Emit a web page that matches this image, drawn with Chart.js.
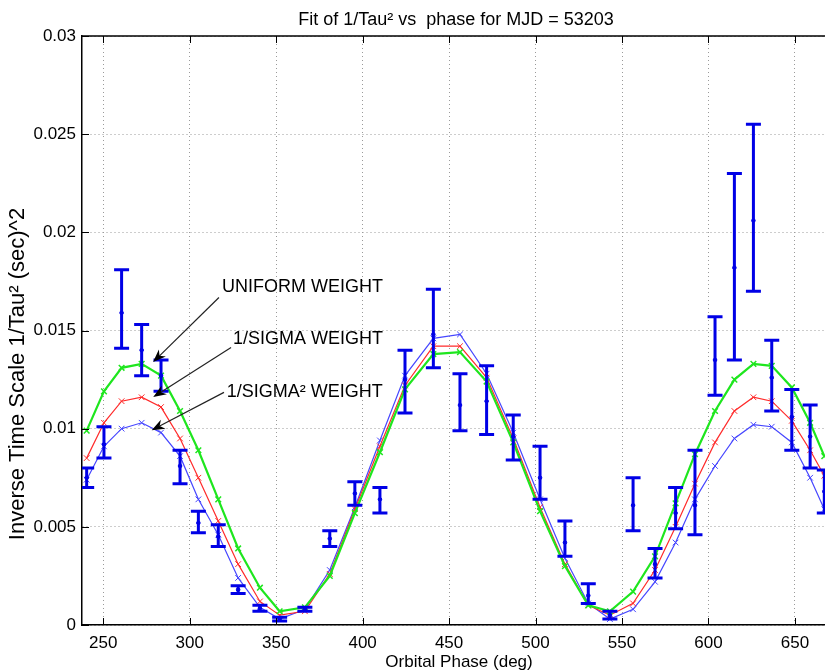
<!DOCTYPE html>
<html>
<head>
<meta charset="utf-8">
<script src="https://cdn.jsdelivr.net/npm/chart.js@4.4.0/dist/chart.umd.min.js"></script>
<style>
  html, body { margin: 0; padding: 0; background: #fff; }
</style>
</head>
<body>
<canvas id="fitChart" width="825" height="672"></canvas>
<script>
// orbital phase of each measurement (deg)
const phase = [240.4, 250.4, 260.6, 272.2, 283.4, 294.4, 305.0, 316.5, 328.0, 340.6,
  352.0, 366.6, 381.0, 395.5, 410.0, 424.5, 440.9, 456.3, 471.7, 487.1,
  502.6, 517.0, 530.5, 543.0, 556.4, 569.1, 581.0, 592.2, 603.8, 615.0,
  626.0, 636.6, 648.2, 658.8, 667.0];

// measured 1/Tau^2 and its error bar ends
const measured = [0.0075, 0.0092, 0.0159, 0.0140, 0.0127, 0.0081, 0.0052, 0.0045, 0.0018, 0.00085,
  0.0003, 0.0008, 0.0044, 0.0067, 0.0064, 0.0125, 0.0148, 0.0112, 0.0114, 0.0096,
  0.0075, 0.0042, 0.0015, 0.0005, 0.0061, 0.0031, 0.0057, 0.0061, 0.0135, 0.0182,
  0.0206, 0.0126, 0.0106, 0.0096, 0.0068];
const errLow = [0.0070, 0.0085, 0.0141, 0.0127, 0.0119, 0.0072, 0.0047, 0.0040, 0.0016, 0.0007,
  0.0002, 0.0007, 0.0040, 0.0061, 0.0057, 0.0108, 0.0131, 0.0099, 0.0097, 0.0084,
  0.0064, 0.0035, 0.0011, 0.0003, 0.0048, 0.0024, 0.0049, 0.0046, 0.0117, 0.0135,
  0.0170, 0.0109, 0.0089, 0.0080, 0.0057];
const errHigh = [0.0080, 0.0101, 0.0181, 0.0153, 0.0135, 0.0089, 0.0058, 0.0051, 0.0020, 0.0010,
  0.0004, 0.0009, 0.0048, 0.0073, 0.0070, 0.0140, 0.0171, 0.0128, 0.0132, 0.0107,
  0.0091, 0.0053, 0.0021, 0.0007, 0.0075, 0.0039, 0.0070, 0.0089, 0.0157, 0.0230,
  0.0255, 0.0145, 0.0120, 0.0112, 0.0079];

// fitted curves
const fitUniform = [0.0099, 0.0119, 0.0131, 0.0133, 0.0127, 0.0109, 0.0089, 0.0064, 0.0039, 0.0019,
  0.0007, 0.0009, 0.0025, 0.0057, 0.0088, 0.0120, 0.0138, 0.0139, 0.0124, 0.0093,
  0.0058, 0.0030, 0.0010, 0.0007, 0.0017, 0.0035, 0.0062, 0.0087, 0.0109, 0.0125,
  0.0133, 0.0132, 0.0121, 0.0103, 0.0086];
const fitSigma = [0.0085, 0.0103, 0.0114, 0.0116, 0.0111, 0.0095, 0.0075, 0.0053, 0.0031, 0.0012,
  0.0005, 0.0007, 0.0026, 0.0059, 0.0091, 0.0122, 0.0142, 0.0142, 0.0126, 0.0095,
  0.0060, 0.0031, 0.0010, 0.0005, 0.0011, 0.0028, 0.0050, 0.0072, 0.0093, 0.0109,
  0.0116, 0.0114, 0.0104, 0.0089, 0.0076];
const fitSigma2 = [0.0074, 0.0091, 0.0100, 0.0103, 0.0098, 0.0086, 0.0064, 0.0046, 0.0024, 0.0009,
  0.0003, 0.0008, 0.0028, 0.0060, 0.0094, 0.0127, 0.0146, 0.0148, 0.0128, 0.0098,
  0.0064, 0.0034, 0.0011, 0.0003, 0.0008, 0.0022, 0.0042, 0.0064, 0.0081, 0.0095,
  0.0102, 0.0101, 0.0093, 0.0075, 0.0059];

const xTicks = [250, 300, 350, 400, 450, 500, 550, 600, 650];
const yTicks = [0, 0.005, 0.01, 0.015, 0.02, 0.025, 0.03];
const noteLabels = ['UNIFORM WEIGHT', '1/SIGMA WEIGHT', '1/SIGMA\u00B2 WEIGHT'];

const FONT = "'Liberation Sans', Arial, Helvetica, sans-serif";

// where the labels and arrows sit, in data units
const notes = [
  { text: [318.7, 0.01721], tail: [316.9, 0.01668], tip: [278.8, 0.01339] },
  { text: [325.0, 0.01458], tail: [323.9, 0.01414], tip: [278.9, 0.01161] },
  { text: [321.4, 0.01187], tail: [319.8, 0.01185], tip: [278.0, 0.00992] }
];

const toPoints = (vals) => phase.map((p, i) => ({ x: p, y: vals[i] }));

const errorBars = {
  id: 'errorBars',
  afterDatasetsDraw(chart) {
    const { ctx, chartArea: a, scales: { x, y } } = chart;
    ctx.save();
    ctx.beginPath();
    ctx.rect(a.left, a.top, a.right - a.left, a.bottom - a.top);
    ctx.clip();
    ctx.strokeStyle = '#0000e6';
    ctx.lineWidth = 3;
    phase.forEach((p, i) => {
      const px = x.getPixelForValue(p);
      const top = y.getPixelForValue(errHigh[i]);
      const bot = y.getPixelForValue(errLow[i]);
      ctx.beginPath();
      ctx.moveTo(px, top); ctx.lineTo(px, bot);
      ctx.moveTo(px - 7.5, top); ctx.lineTo(px + 7.5, top);
      ctx.moveTo(px - 7.5, bot); ctx.lineTo(px + 7.5, bot);
      ctx.stroke();
    });
    ctx.restore();
  }
};

const frame = {
  id: 'frame',
  afterDraw(chart) {
    const { ctx, chartArea: a, scales: { x, y } } = chart;
    ctx.save();
    // top edge and inward ticks like matlab
    ctx.strokeStyle = '#000';
    ctx.lineWidth = 1.5;
    ctx.beginPath();
    ctx.moveTo(a.left, a.top); ctx.lineTo(chart.width, a.top);
    ctx.stroke();
    ctx.lineWidth = 1;
    ctx.beginPath();
    xTicks.forEach(v => {
      const px = Math.round(x.getPixelForValue(v)) + 0.5;
      ctx.moveTo(px, a.bottom); ctx.lineTo(px, a.bottom - 7);
      ctx.moveTo(px, a.top); ctx.lineTo(px, a.top + 7);
    });
    yTicks.forEach(v => {
      const py = Math.round(y.getPixelForValue(v)) + 0.5;
      ctx.moveTo(a.left, py); ctx.lineTo(a.left + 7, py);
    });
    ctx.stroke();

    // annotations
    ctx.fillStyle = '#000';
    ctx.font = '18px ' + FONT;
    ctx.textBaseline = 'middle';
    ctx.textAlign = 'left';
    notes.forEach((n, i) => {
      ctx.fillText(noteLabels[i], x.getPixelForValue(n.text[0]), y.getPixelForValue(n.text[1]));
      const x0 = x.getPixelForValue(n.tail[0]), y0 = y.getPixelForValue(n.tail[1]);
      const x1 = x.getPixelForValue(n.tip[0]), y1 = y.getPixelForValue(n.tip[1]);
      const ang = Math.atan2(y1 - y0, x1 - x0);
      ctx.strokeStyle = '#222';
      ctx.lineWidth = 1.2;
      ctx.beginPath();
      ctx.moveTo(x0, y0);
      ctx.lineTo(x1 - 9 * Math.cos(ang), y1 - 9 * Math.sin(ang));
      ctx.stroke();
      ctx.beginPath();
      ctx.moveTo(x1, y1);
      ctx.lineTo(x1 - 13 * Math.cos(ang) + 5 * Math.sin(ang), y1 - 13 * Math.sin(ang) - 5 * Math.cos(ang));
      ctx.lineTo(x1 - 9 * Math.cos(ang), y1 - 9 * Math.sin(ang));
      ctx.lineTo(x1 - 13 * Math.cos(ang) - 5 * Math.sin(ang), y1 - 13 * Math.sin(ang) + 5 * Math.cos(ang));
      ctx.closePath();
      ctx.fill();
    });

    // titles
    ctx.textAlign = 'center';
    ctx.font = '18px ' + FONT;
    ctx.fillText('Fit of 1/Tau\u00B2 vs  phase for MJD = 53203', 456, 20);
    ctx.font = '17px ' + FONT;
    ctx.fillText('Orbital Phase (deg)', 459, 662);
    ctx.translate(18, 374);
    ctx.rotate(-Math.PI / 2);
    ctx.font = '22px ' + FONT;
    ctx.fillText('Inverse Time Scale 1/Tau\u00B2 (sec)^2', 0, 0);
    ctx.restore();
  }
};

const tickFont = { family: FONT, size: 17 };

new Chart(document.getElementById('fitChart').getContext('2d'), {
  type: 'scatter',
  data: {
    datasets: [
      {
        label: 'measured',
        data: toPoints(measured),
        showLine: false,
        pointRadius: 1.8,
        pointBackgroundColor: '#0000e6',
        pointBorderColor: '#0000e6'
      },
      {
        label: 'uniform weight',
        data: toPoints(fitUniform),
        showLine: true,
        borderColor: '#1ee61e',
        borderWidth: 2.2,
        pointStyle: 'crossRot',
        pointRadius: 4,
        pointBorderColor: '#1ee61e',
        pointBorderWidth: 1.5
      },
      {
        label: '1/sigma weight',
        data: toPoints(fitSigma),
        showLine: true,
        borderColor: '#ff2a2a',
        borderWidth: 1.2,
        pointStyle: 'crossRot',
        pointRadius: 4,
        pointBorderColor: '#ff2a2a',
        pointBorderWidth: 1
      },
      {
        label: '1/sigma^2 weight',
        data: toPoints(fitSigma2),
        showLine: true,
        borderColor: '#4646ff',
        borderWidth: 1.2,
        pointStyle: 'crossRot',
        pointRadius: 4,
        pointBorderColor: '#4646ff',
        pointBorderWidth: 1
      }
    ]
  },
  options: {
    responsive: false,
    animation: false,
    devicePixelRatio: 1,
    layout: { autoPadding: false, padding: { top: 36, left: 0, right: 0, bottom: 0 } },
    plugins: { legend: { display: false }, tooltip: { enabled: false } },
    scales: {
      x: {
        type: 'linear',
        min: 237.7,
        max: 667.4,
        afterBuildTicks: (s) => { s.ticks = xTicks.map(v => ({ value: v })); },
        afterFit: (s) => { s.height = 47; s.paddingLeft = 0; s.paddingRight = 0; },
        grid: { color: '#9a9a9a', lineWidth: 1, drawTicks: false },
        border: { display: true, color: '#000', width: 1.5, dash: [1, 3] },
        ticks: { font: tickFont, color: '#000', padding: 8, maxRotation: 0 }
      },
      y: {
        type: 'linear',
        min: 0,
        max: 0.03,
        afterBuildTicks: (s) => { s.ticks = yTicks.map(v => ({ value: v })); },
        afterFit: (s) => { s.width = 82; s.paddingTop = 0; s.paddingBottom = 0; },
        grid: { color: '#9a9a9a', lineWidth: 1, drawTicks: false },
        border: { display: true, color: '#000', width: 1.5, dash: [1, 3] },
        ticks: {
          font: tickFont,
          color: '#000',
          padding: 6,
          callback: (v) => String(+v.toFixed(3))
        }
      }
    }
  },
  plugins: [errorBars, frame]
});
</script>
</body>
</html>
